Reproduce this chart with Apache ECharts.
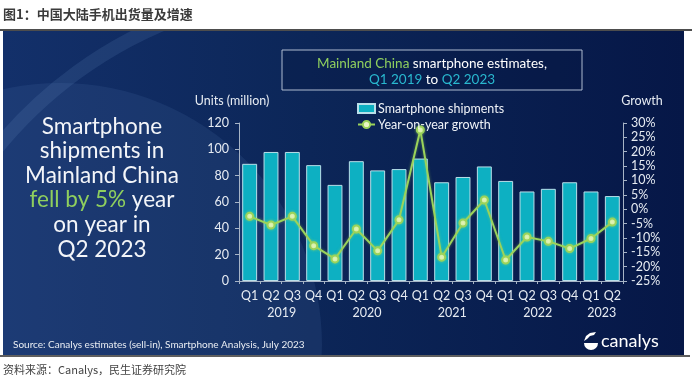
<!DOCTYPE html>
<html><head><meta charset="utf-8">
<script src="https://cdn.jsdelivr.net/npm/echarts@6/dist/echarts.min.js"></script>
<style>html,body{margin:0;padding:0;background:#fff;}#c{width:692px;height:383px;}</style>
</head><body><div id="c"></div>
<script>
// ---- data ----
const quarters = ['Q1','Q2','Q3','Q4','Q1','Q2','Q3','Q4','Q1','Q2','Q3','Q4','Q1','Q2','Q3','Q4','Q1','Q2'];
const years = ['2019','2020','2021','2022','2023'];
const yearCenters = [2, 6, 10, 14, 17]; // boundary positions (in category units) under which each year label is centred
const shipments = [89, 98, 98, 88, 73, 91, 84, 85, 93, 75, 79, 87, 76, 68, 70, 75, 68, 64.5];
const growth = [-2.5, -5.5, -2.5, -12.7, -17.3, -6.9, -14.5, -3.7, 27.6, -16.7, -4.8, 3.2, -17.7, -9.7, -11.2, -13.7, -10.2, -4.5];
const seriesNames = ['Smartphone shipments', 'Year-on-year growth'];

const FONT = 'Lato';
const chart = echarts.init(document.getElementById('c'), null, {renderer: 'canvas'});

const option = {
  animation: false,
  backgroundColor: '#ffffff',
  grid: {left: 239, right: 69, top: 123, bottom: 102, containLabel: false},
  legend: {
    left: 352, top: 97, orient: 'vertical', itemGap: 3, itemWidth: 17, itemHeight: 9,
    textStyle: {color: '#f0f3f8', fontSize: 12.5, fontFamily: FONT, padding: [0,0,0,-2]},
    data: [{name: seriesNames[0], icon: 'rect'}, {name: seriesNames[1]}]
  },
  xAxis: [{
    type: 'category', data: quarters, gridIndex: 0,
    axisLine: {lineStyle: {color: '#a7b4c6', width: 1}},
    axisTick: {show: true, length: 3, interval: 0, lineStyle: {color: '#a7b4c6'}},
    axisLabel: {color: '#e6ebf2', fontSize: 12.5, fontFamily: FONT, margin: 8, interval: 0}
  }, {
    type: 'value', gridIndex: 0, position: 'bottom', offset: 17, min: 0, max: 18, interval: 1,
    axisLine: {show: false}, axisTick: {show: false}, splitLine: {show: false},
    axisLabel: {color: '#e6ebf2', fontSize: 12.5, fontFamily: FONT, margin: 8,
      showMinLabel: true, showMaxLabel: true, hideOverlap: false,
      formatter: v => { const i = yearCenters.indexOf(Math.round(v)); return i >= 0 ? years[i] : ''; }}
  }],
  yAxis: [{
    type: 'value', min: 0, max: 120, interval: 20, position: 'left',
    axisLine: {show: true, lineStyle: {color: '#a7b4c6'}},
    axisTick: {show: true, length: 4, lineStyle: {color: '#a7b4c6'}},
    splitLine: {show: false},
    axisLabel: {color: '#e6ebf2', fontSize: 12.5, fontFamily: FONT, margin: 10}
  }, {
    type: 'value', min: -25, max: 30, interval: 5, position: 'right',
    axisLine: {show: true, lineStyle: {color: '#a7b4c6'}},
    axisTick: {show: true, length: 4, lineStyle: {color: '#a7b4c6'}},
    splitLine: {show: false},
    axisLabel: {color: '#e6ebf2', fontSize: 12.5, fontFamily: FONT, margin: 8, formatter: '{value}%'}
  }],
  series: [{
    name: seriesNames[0], type: 'bar', data: shipments, barWidth: '70%', yAxisIndex: 0, xAxisIndex: 0,
    itemStyle: {color: '#0db0c2', borderColor: '#b9dfe9', borderWidth: 1}, z: 2
  }, {
    name: seriesNames[1], type: 'line', data: growth, yAxisIndex: 1, xAxisIndex: 0,
    symbol: 'circle', symbolSize: 7,
    lineStyle: {color: '#9bd35a', width: 2, shadowColor: 'rgba(160,220,90,0.5)', shadowBlur: 3},
    itemStyle: {color: '#eaf7c4', borderColor: '#9bd35a', borderWidth: 2, shadowColor: 'rgba(160,220,90,0.6)', shadowBlur: 3},
    z: 3
  }],
  graphic: [
    // panel background
    {type: 'rect', z: -10, silent: true, shape: {x: 3, y: 31, width: 681, height: 325},
      style: {fill: new echarts.graphic.LinearGradient(0, 0, 1, 0, [
        {offset: 0, color: '#13306a'}, {offset: 0.45, color: '#0c2658'}, {offset: 1, color: '#061747'}])}},
    {type: 'circle', z: -9, silent: true, shape: {cx: 60, cy: 345, r: 262},
      style: {fill: 'rgba(80,120,175,0.16)'}},
    {type: 'arc', z: -9, silent: true, shape: {cx: 330, cy: 420, r: 430, startAngle: Math.PI*1.12, endAngle: Math.PI*1.48},
      style: {stroke: 'rgba(120,160,210,0.14)', lineWidth: 14}},
    // white cover outside panel
    {type: 'rect', z: -8, silent: true, shape: {x: 0, y: 0, width: 692, height: 31}, style: {fill: '#fff'}},
    {type: 'rect', z: -8, silent: true, shape: {x: 0, y: 356, width: 692, height: 27}, style: {fill: '#fff'}},
    {type: 'rect', z: -8, silent: true, shape: {x: 0, y: 0, width: 3, height: 383}, style: {fill: '#fff'}},
    {type: 'rect', z: -8, silent: true, shape: {x: 684, y: 0, width: 8, height: 383}, style: {fill: '#fff'}},
    // header
    {type: 'text', z: 10, style: {text: '图1：中国大陆手机出货量及增速', x: 3, y: 8, fill: '#3b3b3b',
      font: 'bold 13px "Noto Sans CJK SC"'}},
    {type: 'rect', z: 10, shape: {x: 0, y: 29, width: 692, height: 2}, style: {fill: '#4d4d4d'}},
    // footer
    {type: 'rect', z: 10, shape: {x: 0, y: 355, width: 690, height: 2}, style: {fill: '#5f5f5f'}},
    {type: 'text', z: 10, style: {text: '资料来源：Canalys，民生证券研究院', x: 3, y: 364, fill: '#444',
      font: '11px "Noto Sans CJK SC"'}},
    // box title
    {type: 'rect', z: 10, shape: {x: 282, y: 50, width: 300, height: 40},
      style: {fill: 'rgba(5,20,60,0.25)', stroke: '#aebbd0', lineWidth: 1}},
    {type: 'text', z: 11, style: {
      text: '{g|Mainland China} {w|smartphone estimates,}\n{c|Q1 2019} {w|to} {c|Q2 2023}',
      x: 432, y: 56, align: 'center', verticalAlign: 'top', fill: '#fff', font: '13.5px Lato', lineHeight: 16,
      rich: {g: {fill: '#8fcf5e', font: '13.5px Lato'}, w: {fill: '#ffffff', font: '13.5px Lato'}, c: {fill: '#29b8cf', font: '13.5px Lato'}}}},
    // big left text
    {type: 'text', z: 11, style: {
      text: 'Smartphone\nshipments in\nMainland China\n{g|fell by 5%} year\non year in\nQ2 2023',
      x: 102, y: 114, align: 'center', verticalAlign: 'top', fill: '#f3f5f9', font: '22.5px Lato', lineHeight: 24.6,
      rich: {g: {fill: '#8fcf5e', font: '22.5px Lato'}}}},
    // axis names
    {type: 'text', z: 11, style: {text: 'Units (million)', x: 232, y: 101, align: 'center', verticalAlign: 'middle',
      fill: '#e6ebf2', font: '12.5px Lato'}},
    {type: 'text', z: 11, style: {text: 'Growth', x: 642, y: 101, align: 'center', verticalAlign: 'middle',
      fill: '#e6ebf2', font: '12.5px Lato'}},
    // source
    {type: 'text', z: 11, style: {text: 'Source: Canalys estimates (sell-in), Smartphone Analysis, July 2023',
      x: 13, y: 345, verticalAlign: 'middle', fill: '#e9edf3', font: '10px Lato'}},
    // logo
    {type: 'sector', z: 11, shape: {cx: 591, cy: 343, r0: 0, r: 7, startAngle: 0, endAngle: Math.PI},
      style: {fill: '#ffffff'}},
    {type: 'polygon', z: 11, shape: {points: [[584, 341], [586, 336], [590, 333], [596, 332], [594, 335], [590, 336], [587, 339]]},
      style: {fill: '#ffffff'}},
    {type: 'text', z: 11, style: {text: 'canalys', x: 601, y: 341, verticalAlign: 'middle', fill: '#ffffff', font: '18px Lato'}}
  ]
};
chart.setOption(option);
</script>
</body></html>
